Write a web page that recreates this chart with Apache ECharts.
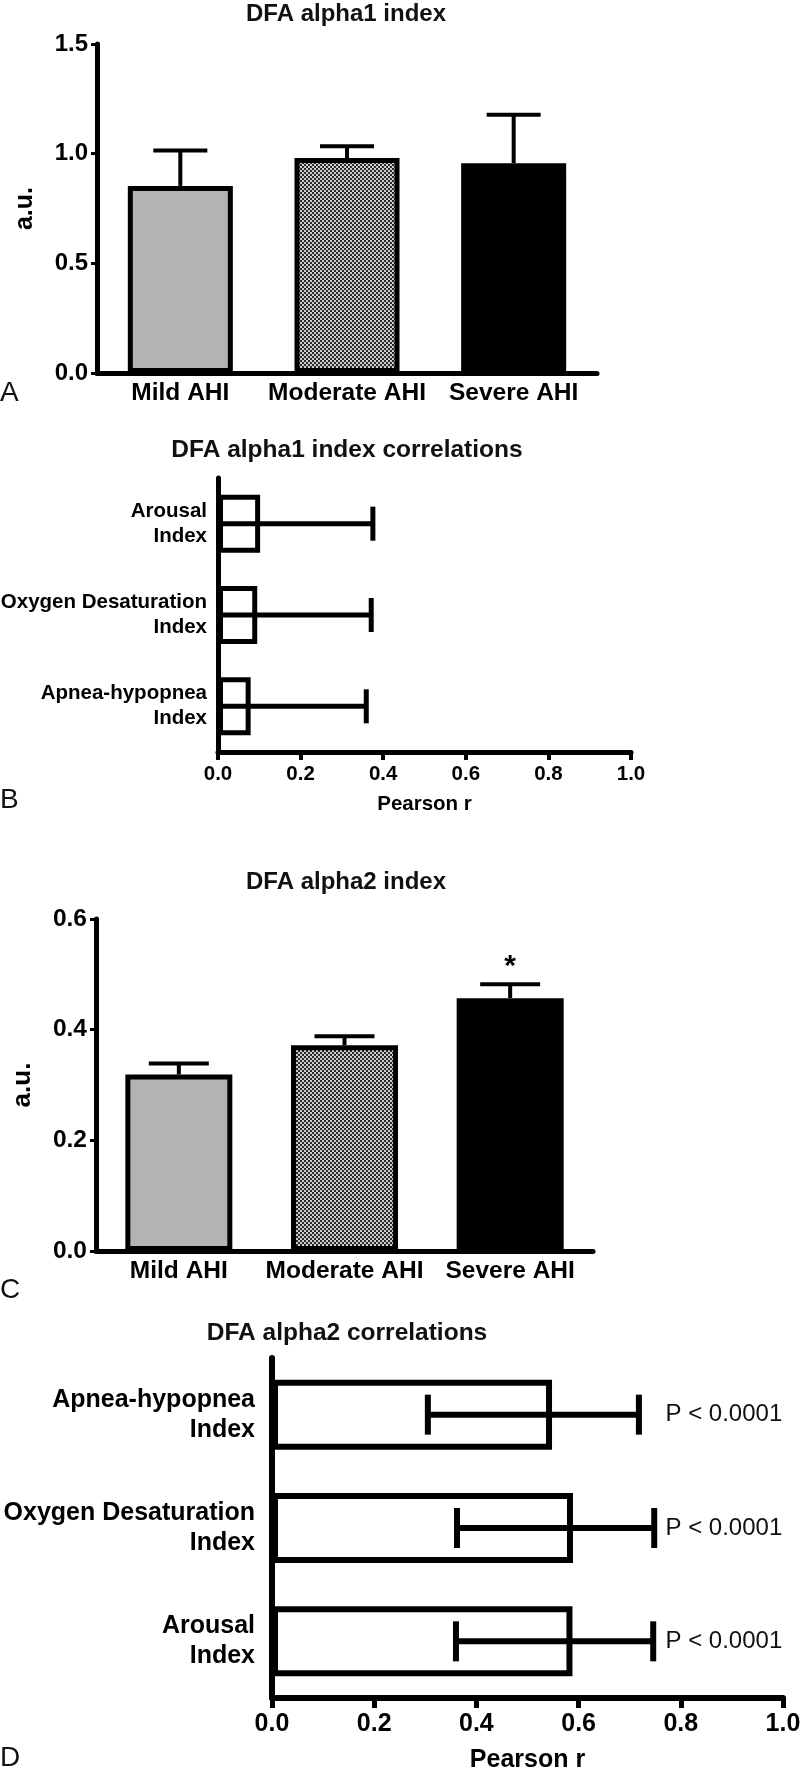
<!DOCTYPE html>
<html>
<head>
<meta charset="utf-8">
<title>DFA alpha indices</title>
<script src="https://cdn.jsdelivr.net/npm/echarts@6/dist/echarts.min.js"></script>
<style>
  html, body { margin: 0; padding: 0; background: #fff; }
  #chart { width: 800px; height: 1771px; }
</style>
</head>
<body>
<div id="chart"></div>
<script>
// AHI groups, panels A and C
const groups = ['Mild AHI', 'Moderate AHI', 'Severe AHI'];
const alpha1Mean = [0.853, 0.980, 0.956];
const alpha1Upper = [1.014, 1.034, 1.177];
const alpha2Mean = [0.319, 0.372, 0.457];
const alpha2Upper = [0.339, 0.388, 0.482];
const alpha2Marks = ['', '', '*'];
const alpha1Ticks = [0, 0.5, 1.0, 1.5];
const alpha2Ticks = [0, 0.2, 0.4, 0.6];

// correlations, panels B and D (top to bottom)
const corr1Labels = ['Arousal\nIndex', 'Oxygen Desaturation\nIndex', 'Apnea-hypopnea\nIndex'];
const corr1R = [0.102, 0.095, 0.079];
const corr1Low = [-0.18, -0.19, -0.2]; // below 0, cut by the axis
const corr1High = [0.375, 0.371, 0.359];

const corr2Labels = ['Apnea-hypopnea\nIndex', 'Oxygen Desaturation\nIndex', 'Arousal\nIndex'];
const corr2R = [0.548, 0.589, 0.588];
const corr2Low = [0.305, 0.362, 0.360];
const corr2High = [0.718, 0.748, 0.746];
const corr2P = ['P < 0.0001', 'P < 0.0001', 'P < 0.0001'];
const pearsonTicks = [0, 0.2, 0.4, 0.6, 0.8, 1.0];

const FONT = '"Liberation Sans", Arial, sans-serif';
const P_LABEL_AT = 0.77;

function checker() {
  const c = document.createElement('canvas');
  c.width = 4; c.height = 4;
  const g = c.getContext('2d');
  g.fillStyle = '#cdcdcd'; g.fillRect(0, 0, 4, 4);
  g.fillStyle = '#2a2a2a'; g.fillRect(0, 0, 2, 2); g.fillRect(2, 2, 2, 2);
  return c;
}
const fills = ['#b3b3b3', { image: checker(), repeat: 'repeat' }, '#000'];

const fmt = v => v.toFixed(1);

// vertical one-sided error bar (mean -> upper) with cap
function upErr(capHalf, lw, marks) {
  return function (params, api) {
    const i = api.value(0);
    const p0 = api.coord([i, api.value(1)]);
    const p1 = api.coord([i, api.value(2)]);
    const st = { stroke: '#000', lineWidth: lw };
    const kids = [
      { type: 'line', shape: { x1: p0[0], y1: p0[1], x2: p1[0], y2: p1[1] }, style: st },
      { type: 'line', shape: { x1: p1[0] - capHalf, y1: p1[1], x2: p1[0] + capHalf, y2: p1[1] }, style: st }
    ];
    const m = marks && marks[params.dataIndex];
    if (m) {
      kids.push({ type: 'text', x: p1[0], y: p1[1] - 18, style: {
        text: m, fill: '#000', font: 'bold 30px ' + FONT,
        align: 'center', verticalAlign: 'middle', textAlign: 'center', textVerticalAlign: 'middle' } });
    }
    return { type: 'group', children: kids };
  };
}

// horizontal error bar (low -> high), caps where the end is inside the axis
function hErr(capHalf, lw, texts) {
  return function (params, api) {
    const c = api.value(0);
    const lo = api.value(1), hi = api.value(2);
    const a = api.coord([Math.max(lo, 0), c]);
    const b = api.coord([hi, c]);
    const st = { stroke: '#000', lineWidth: lw };
    const kids = [
      { type: 'line', shape: { x1: a[0], y1: a[1], x2: b[0], y2: b[1] }, style: st },
      { type: 'line', shape: { x1: b[0], y1: b[1] - capHalf, x2: b[0], y2: b[1] + capHalf }, style: st }
    ];
    if (lo >= 0) {
      kids.push({ type: 'line', shape: { x1: a[0], y1: a[1] - capHalf, x2: a[0], y2: a[1] + capHalf }, style: st });
    }
    const t = texts && texts[params.dataIndex];
    if (t) {
      const p = api.coord([P_LABEL_AT, c]);
      kids.push({ type: 'text', x: p[0], y: p[1], style: {
        text: t, fill: '#111', font: '24px ' + FONT,
        align: 'left', verticalAlign: 'middle', textAlign: 'left', textVerticalAlign: 'middle' } });
    }
    return { type: 'group', children: kids };
  };
}

function valueAxis(ticks, gridIndex, o) {
  return {
    type: 'value', gridIndex: gridIndex,
    min: ticks[0], max: ticks[ticks.length - 1], interval: ticks[1] - ticks[0],
    splitLine: { show: false },
    axisLine: { show: true, lineStyle: { color: '#000', width: o.line } },
    axisTick: { show: true, length: o.tick, lineStyle: { color: '#000', width: o.tickW } },
    axisLabel: { formatter: fmt, color: '#000', fontWeight: 'bold', fontSize: o.font, margin: o.margin,
      fontFamily: FONT, showMinLabel: true, showMaxLabel: true },
    name: o.name, nameLocation: 'middle', nameGap: o.nameGap,
    nameTextStyle: { color: '#000', fontWeight: 'bold', fontSize: o.nameFont, fontFamily: FONT }
  };
}

function catAxis(data, gridIndex, o) {
  return {
    type: 'category', gridIndex: gridIndex, data: data, inverse: !!o.inverse,
    axisLine: { show: true, lineStyle: { color: '#000', width: o.line } },
    axisTick: { show: false },
    axisLabel: { color: '#000', fontWeight: 'bold', fontSize: o.font, margin: o.margin,
      lineHeight: o.lineHeight, fontFamily: FONT, interval: 0 }
  };
}

function panelText(text, x, y, size, weight, align) {
  return { type: 'text', x: x, y: y, silent: true, style: {
    text: text, fill: '#111', font: (weight || 'normal') + ' ' + size + 'px ' + FONT,
    align: align || 'center', verticalAlign: 'middle',
    textAlign: align || 'center', textVerticalAlign: 'middle' } };
}

const chart = echarts.init(document.getElementById('chart'), null, { renderer: 'canvas' });

chart.setOption({
  animation: false,
  backgroundColor: '#fff',
  textStyle: { fontFamily: FONT },
  grid: [
    { left: 97, top: 44, width: 500, height: 329, outerBoundsMode: 'none' },
    { left: 218, top: 478, width: 413, height: 274, outerBoundsMode: 'none' },
    { left: 96, top: 919, width: 497, height: 332, outerBoundsMode: 'none' },
    { left: 272, top: 1358, width: 511, height: 340, outerBoundsMode: 'none' }
  ],
  xAxis: [
    catAxis(groups, 0, { line: 5, font: 24.5, margin: 8 }),
    valueAxis(pearsonTicks, 1, { line: 5, tick: 8, tickW: 4, font: 20.5, margin: 12,
      name: 'Pearson r', nameGap: 42, nameFont: 20.5 }),
    catAxis(groups, 2, { line: 5, font: 24.5, margin: 8 }),
    valueAxis(pearsonTicks, 3, { line: 6, tick: 10, tickW: 5, font: 25, margin: 14,
      name: 'Pearson r', nameGap: 50, nameFont: 25 })
  ],
  yAxis: [
    valueAxis(alpha1Ticks, 0, { line: 5, tick: 6, tickW: 3, font: 24, margin: 9,
      name: 'a.u.', nameGap: 59, nameFont: 25 }),
    catAxis(corr1Labels, 1, { line: 5, font: 20.5, margin: 11, lineHeight: 25, inverse: true }),
    valueAxis(alpha2Ticks, 2, { line: 5, tick: 6, tickW: 3, font: 24.5, margin: 9,
      name: 'a.u.', nameGap: 60, nameFont: 26 }),
    catAxis(corr2Labels, 3, { line: 6, font: 25, margin: 17, lineHeight: 30, inverse: true })
  ],
  series: [
    {
      type: 'bar', xAxisIndex: 0, yAxisIndex: 0, silent: true, barWidth: 105, z: 2,
      itemStyle: { borderColor: '#000', borderWidth: 5 },
      data: alpha1Mean.map((v, i) => ({ value: v, itemStyle: { color: fills[i] } }))
    },
    {
      type: 'custom', xAxisIndex: 0, yAxisIndex: 0, silent: true, z: 6,
      renderItem: upErr(27, 4),
      encode: { x: 0, y: [1, 2] },
      data: groups.map((g, i) => [i, alpha1Mean[i], alpha1Upper[i]])
    },
    {
      type: 'bar', xAxisIndex: 1, yAxisIndex: 1, silent: true, barWidth: 58, z: 2,
      itemStyle: { color: '#fff', borderColor: '#000', borderWidth: 5 },
      data: corr1R
    },
    {
      type: 'custom', xAxisIndex: 1, yAxisIndex: 1, silent: true, z: 6,
      renderItem: hErr(17, 5),
      encode: { y: 0, x: [1, 2] },
      data: corr1Labels.map((g, i) => [i, corr1Low[i], corr1High[i]])
    },
    {
      type: 'bar', xAxisIndex: 2, yAxisIndex: 2, silent: true, barWidth: 107, z: 2,
      itemStyle: { borderColor: '#000', borderWidth: 5 },
      data: alpha2Mean.map((v, i) => ({ value: v, itemStyle: { color: fills[i] } }))
    },
    {
      type: 'custom', xAxisIndex: 2, yAxisIndex: 2, silent: true, z: 6,
      renderItem: upErr(30, 4, alpha2Marks),
      encode: { x: 0, y: [1, 2] },
      data: groups.map((g, i) => [i, alpha2Mean[i], alpha2Upper[i]])
    },
    {
      type: 'bar', xAxisIndex: 3, yAxisIndex: 3, silent: true, barWidth: 70, z: 2,
      itemStyle: { color: '#fff', borderColor: '#000', borderWidth: 6 },
      data: corr2R
    },
    {
      type: 'custom', xAxisIndex: 3, yAxisIndex: 3, silent: true, z: 6,
      renderItem: hErr(20, 6, corr2P),
      encode: { y: 0, x: [1, 2] },
      data: corr2Labels.map((g, i) => [i, corr2Low[i], corr2High[i]])
    }
  ],
  graphic: [
    panelText('DFA alpha1 index', 346, 14, 24, 'bold'),
    panelText('DFA alpha1 index correlations', 347, 450, 24.5, 'bold'),
    panelText('DFA alpha2 index', 346, 882, 24, 'bold'),
    panelText('DFA alpha2 correlations', 347, 1333, 24.5, 'bold'),
    panelText('A', 0, 393, 28, 'normal', 'left'),
    panelText('B', 0, 800, 28, 'normal', 'left'),
    panelText('C', 0, 1290, 28, 'normal', 'left'),
    panelText('D', 0, 1758, 28, 'normal', 'left')
  ]
});
</script>
</body>
</html>
